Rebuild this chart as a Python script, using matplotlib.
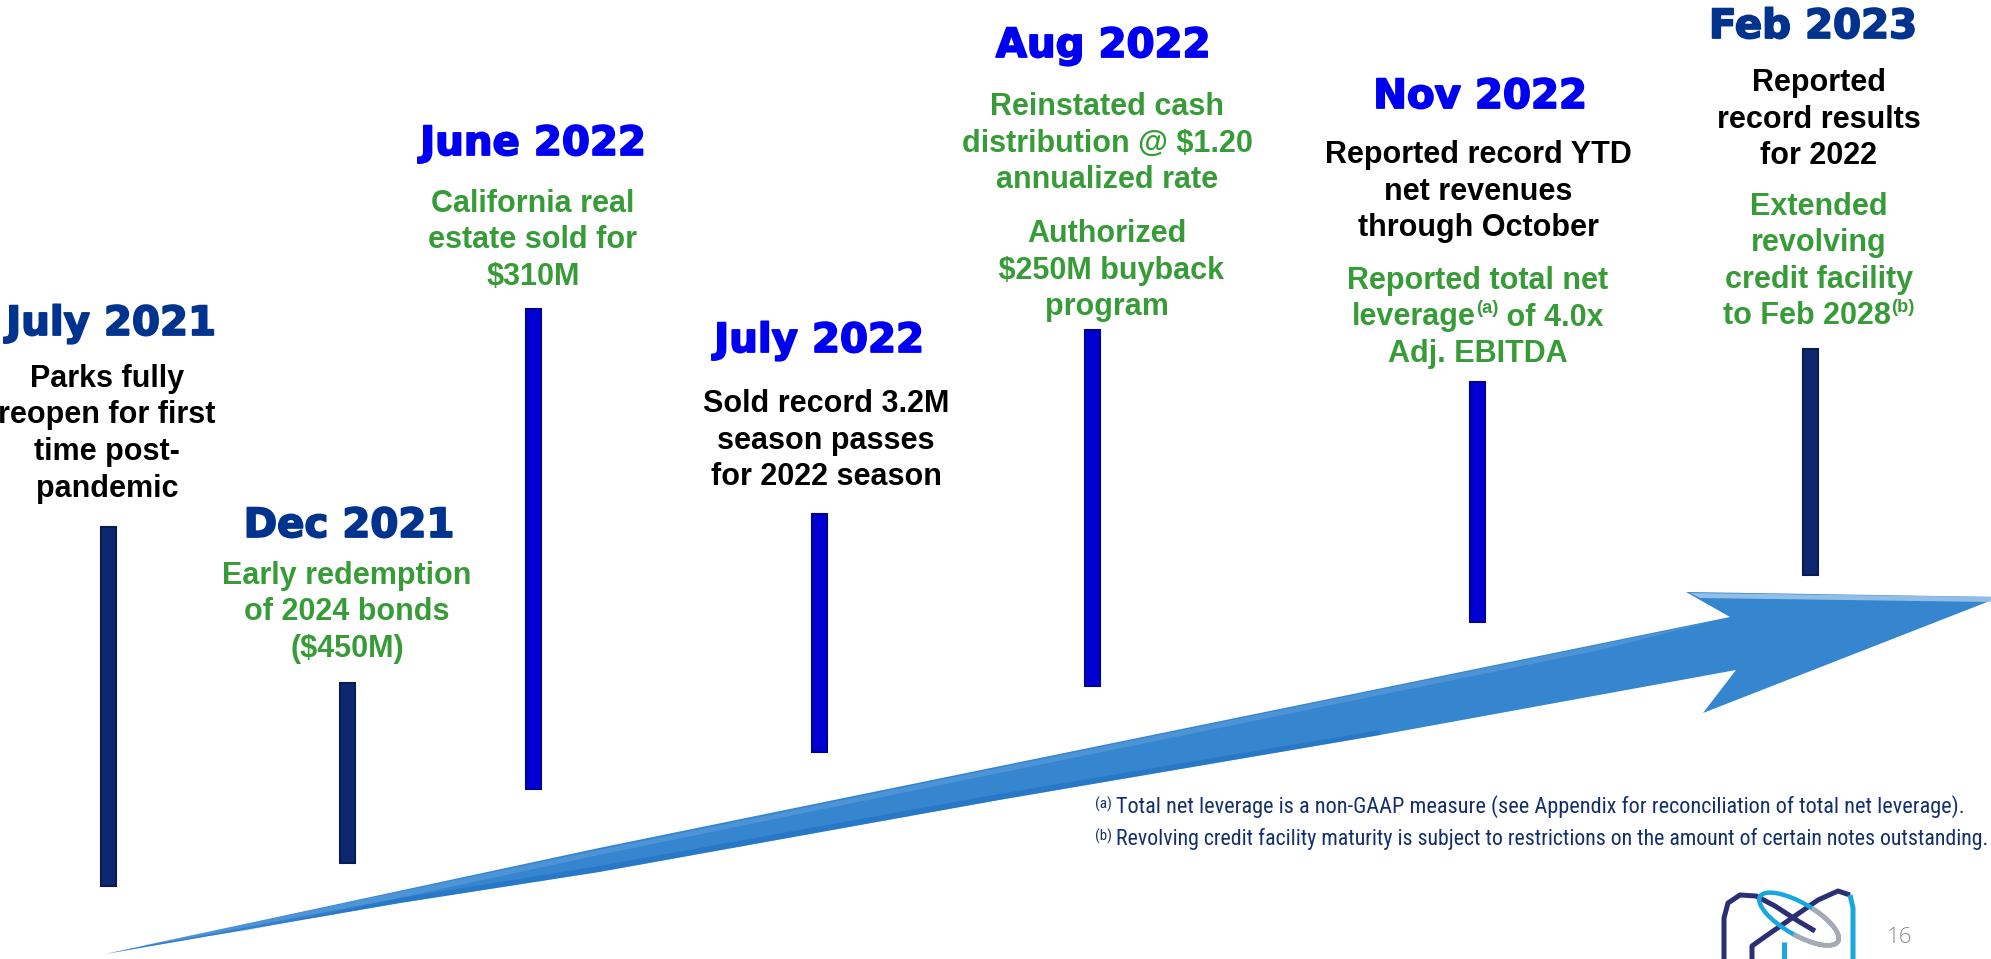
import matplotlib
matplotlib.use("Agg")
import matplotlib.pyplot as plt
from matplotlib import font_manager
from matplotlib.patches import Polygon, Ellipse, Arc
import matplotlib.patheffects as pe

W, H = 1991, 959

# ---------------- data ----------------
dates = ["July 2021", "Dec 2021", "June 2022", "July 2022", "Aug 2022", "Nov 2022", "Feb 2023"]
date_tone = ["navy", "navy", "blue", "blue", "blue", "blue", "navy"]
bar_tone = ["navy", "navy", "blue", "blue", "blue", "blue", "navy"]
notes_july21 = [("black", ["Parks fully", "reopen for first", "time post-", "pandemic"])]
notes_dec21 = [("green", ["Early redemption", "of 2024 bonds", "($450M)"])]
notes_jun22 = [("green", ["California real", "estate sold for", "$310M"])]
notes_jul22 = [("black", ["Sold record 3.2M", "season passes", "for 2022 season"])]
notes_aug22 = [("green", ["Reinstated cash", "distribution @ $1.20", "annualized rate"]),
               ("green", ["Authorized", " $250M buyback", "program"])]
notes_nov22 = [("black", ["Reported record YTD", "net revenues", "through October"]),
               ("green", ["Reported total net", "leverage^(a) of 4.0x", "Adj. EBITDA"])]
notes_feb23 = [("black", ["Reported", "record results", "for 2022"]),
               ("green", ["Extended", "revolving", "credit facility", "to Feb 2028^(b)"])]
notes = [notes_july21, notes_dec21, notes_jun22, notes_jul22, notes_aug22, notes_nov22, notes_feb23]
bar_top = [527, 683, 309, 514, 330, 382, 349]
bar_bottom = [886, 863, 789, 752, 686, 622, 575]
footnote_marks = ["(a)", "(b)"]
footnote_texts = ["Total net leverage is a non-GAAP measure (see Appendix for reconciliation of total net leverage).",
                  "Revolving credit facility maturity is subject to restrictions on the amount of certain notes outstanding."]
page_number = "16"

# ---------------- layout / style ----------------
bar_x = [108, 347, 533, 819, 1092, 1477, 1810]
date_x = [111, 349, 533, 819, 1103, 1480, 1813]
date_base = [335, 537, 155, 352, 57, 108, 38]
body_x = [107, 347, 533, 826, 1107, 1478, 1819]
block_base = [[387], [584], [212], [412], [115, 242], [163, 289], [91, 215]]
line_step = 36.5

COL = {"navy": "#00338D", "blue": "#0000F0", "green": "#379B37", "black": "#000000"}
BAR_FACE = {"navy": "#0D2870", "blue": "#0000D2"}
BAR_EDGE = {"navy": "#091B50", "blue": "#00009A"}
FOOT_COL = "#142F6B"

fig = plt.figure(figsize=(W / 100, H / 100), dpi=100)
ax = fig.add_axes([0, 0, 1, 1])
ax.set_xlim(0, W)
ax.set_ylim(H, 0)
ax.axis("off")
renderer = fig.canvas.get_renderer()


def pick_narrow():
    prefs = ["liberation sans narrow", "roboto condensed", "open sans condensed", "noto sans condensed",
             "dejavu sans condensed", "dejavu sans"]
    cands = []
    for f in font_manager.fontManager.ttflist:
        nm = f.name.lower()
        fn = f.fname.lower()
        narrow = ("narrow" in nm or "condensed" in nm or "narrow" in fn or "condensed" in fn
                  or str(f.stretch) in ("condensed", "semi-condensed", "extra-condensed"))
        if not narrow:
            continue
        if "bold" in fn or "italic" in fn or "oblique" in fn or "light" in fn or "black" in fn:
            continue
        for rank, p in enumerate(prefs):
            if nm.startswith(p.split(" condensed")[0].split(" narrow")[0]) or p in nm:
                cands.append((rank, f.fname))
                break
    if cands:
        cands.sort()
        return font_manager.FontProperties(fname=cands[0][1])
    return font_manager.FontProperties(family="Liberation Sans")


NARROW_FP = pick_narrow()


def twidth(s, **kw):
    t = ax.text(0, 0, "|" + s + "|", **kw)
    w1 = t.get_window_extent(renderer).width
    t.remove()
    t = ax.text(0, 0, "||", **kw)
    w0 = t.get_window_extent(renderer).width
    t.remove()
    return w1 - w0


# ---------------- arrow ----------------
arrow_pts = [(105, 954), (599, 848), (1730, 617), (1686, 592), (2000, 597),
             (1703, 713), (1736, 670), (1380, 735), (999, 800), (599, 872), (400, 903)]
ax.add_patch(Polygon(arrow_pts, closed=True, fc="#3585CF", ec="none", zorder=1))
# soft highlights / shading
ax.add_patch(Polygon([(140, 946), (599, 850), (1710, 622), (1600, 650), (599, 855), (250, 930)],
                     closed=True, fc="#6AA7E0", ec="none", alpha=0.45, zorder=1.1))
ax.add_patch(Polygon([(1690, 593), (2000, 597), (1990, 602), (1700, 598)],
                     closed=True, fc="#A9CCEC", ec="none", alpha=0.8, zorder=1.1))
ax.add_patch(Polygon([(105, 954), (400, 903), (599, 872), (999, 800), (1380, 735), (1380, 730),
                      (999, 794), (599, 866), (400, 898)],
                     closed=True, fc="#1C6CC2", ec="none", alpha=0.5, zorder=1.1))

# ---------------- bars ----------------
for i in range(len(dates)):
    tone = bar_tone[i]
    ax.bar(bar_x[i], bar_bottom[i] - bar_top[i], bottom=bar_top[i], width=15,
           color=BAR_FACE[tone], edgecolor=BAR_EDGE[tone], linewidth=1.5, zorder=2)

# ---------------- headers ----------------
for i, d in enumerate(dates):
    c = COL[date_tone[i]]
    ax.text(date_x[i], date_base[i], d, ha="center", va="baseline", fontsize=29,
            family="DejaVu Sans", fontweight="bold", color=c, zorder=3,
            path_effects=[pe.withStroke(linewidth=1.3, foreground=c)])


# ---------------- body text ----------------
def draw_line(xc, yb, s, color, size=22):
    kw = dict(family="Liberation Sans", fontweight="bold", color=color, va="baseline")
    if "^(" not in s:
        ax.text(xc, yb, s, ha="center", fontsize=size, zorder=3, **kw)
        return
    pre, rest = s.split("^(", 1)
    sup, post = rest.split(")", 1)
    sup = "(" + sup + ")"
    ssize = size * 0.6
    segs = [(pre, size, 0), (sup, ssize, -size * 0.55), (post, size, 0)]
    widths = [twidth(t, fontsize=sz, **kw) for t, sz, _ in segs]
    x = xc - sum(widths) / 2
    for (t, sz, dy), w in zip(segs, widths):
        ax.text(x, yb + dy, t, ha="left", fontsize=sz, zorder=3, **kw)
        x += w


for i, blocks in enumerate(notes):
    for (tone, lines), yb0 in zip(blocks, block_base[i]):
        for k, line in enumerate(lines):
            draw_line(body_x[i], yb0 + k * line_step, line, COL[tone])

# ---------------- footnotes ----------------
foot_base = [813, 845]
foot_text_x = 1116
foot_end = [1962, 1986]
for mark, txt, yb, xe in zip(footnote_marks, footnote_texts, foot_base, foot_end):
    kw = dict(fontproperties=NARROW_FP, color=FOOT_COL, va="baseline")
    t = ax.text(foot_text_x, yb, txt, ha="left", zorder=3, **kw)
    t.set_fontsize(13)
    w = t.get_window_extent(renderer).width
    size = min(13 * (xe - foot_text_x) / w, 17)
    t.set_fontsize(size)
    m = ax.text(foot_text_x - 4, yb - 4, mark, ha="right", zorder=3, **kw)
    m.set_fontsize(size * 0.68)

# ---------------- logo ----------------
navy_l, cyan_l, gray_l = "#2B2F73", "#1AA7E0", "#A9A9B2"
ax.plot([1724, 1724, 1728, 1740, 1756, 1775, 1798, 1815], [959, 918, 903, 895, 896, 906, 921, 931],
        color=navy_l, lw=3.6, solid_capstyle="butt", zorder=4)
ax.plot([1752, 1752, 1766, 1792, 1818, 1838, 1850], [959, 946, 936, 918, 900, 891, 895],
        color=navy_l, lw=3.6, solid_capstyle="butt", zorder=4)
ax.plot([1850, 1853, 1853], [895, 908, 959], color=cyan_l, lw=3.6, solid_capstyle="butt", zorder=4)
ax.plot([1784, 1784], [942, 959], color=cyan_l, lw=3.6, solid_capstyle="butt", zorder=4)
ax.add_patch(Ellipse((1799, 919), 90, 32, angle=30, fill=False, ec=cyan_l, lw=3.2, zorder=4))
ax.add_patch(Arc((1799, 919), 90, 32, angle=30, theta1=-70, theta2=80, ec=gray_l, lw=3.4, zorder=4.1))

ax.text(1900, 943, page_number, ha="center", va="baseline", fontsize=16, family="Open Sans",
        fontweight="light", color="#8C8C8C", zorder=3)

fig.savefig("out.png", dpi=100, facecolor="white")
